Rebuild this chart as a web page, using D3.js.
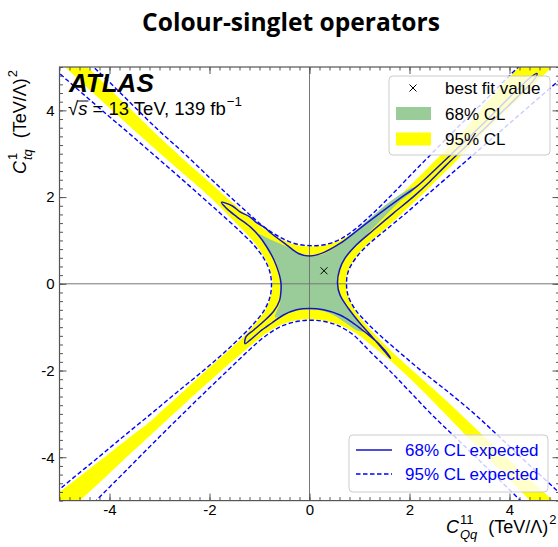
<!DOCTYPE html>
<html>
<head>
<meta charset="utf-8">
<script src="https://cdn.jsdelivr.net/npm/d3@7"></script>
<style>
body{margin:0;background:#fff;}
text{font-family:"Liberation Sans",Arial,sans-serif;}
</style>
</head>
<body>
<script>
var W=558,H=547;

// tick labels
var xTicks=[-4,-2,0,2,4];
var yTicks=[-4,-2,0,2,4];

// best fit point
var bestFit=[0.29,0.30];

// expected 95% CL (dashed), four branches
var exp95Top=[[-5.3,6.1],[-4.5,5.2],[-4.0,4.65],[-3.5,4.08],[-3.0,3.52],[-2.5,3.0],[-2.0,2.45],[-1.6,2.02],[-1.2,1.6],[-0.9,1.3],[-0.6,1.08],[-0.3,0.93],[0,0.88],[0.3,0.9],[0.6,1.02],[0.9,1.25],[1.2,1.55],[1.6,2.0],[2.0,2.48],[2.5,3.07],[3.0,3.65],[3.5,4.22],[4.0,4.8],[4.5,5.37],[5.3,6.3]];
var exp95Bottom=[[-5.3,-6.2],[-4.5,-5.27],[-4.0,-4.69],[-3.5,-4.11],[-3.0,-3.53],[-2.5,-2.96],[-2.0,-2.4],[-1.6,-1.96],[-1.2,-1.52],[-0.9,-1.22],[-0.6,-1.0],[-0.3,-0.88],[0,-0.84],[0.3,-0.87],[0.6,-0.98],[0.9,-1.2],[1.2,-1.55],[1.6,-2.0],[2.0,-2.48],[2.5,-3.08],[3.0,-3.63],[3.5,-4.19],[4.0,-4.75],[4.5,-5.31],[5.3,-6.2]];
var exp95Left=[[-6.15,6],[-5.15,5],[-4.65,4.5],[-4.15,4],[-3.64,3.5],[-3.14,3],[-2.64,2.5],[-2.15,2],[-1.76,1.6],[-1.38,1.2],[-1.12,0.9],[-0.92,0.6],[-0.8,0.3],[-0.76,0],[-0.79,-0.3],[-0.9,-0.6],[-1.1,-0.9],[-1.35,-1.2],[-1.72,-1.6],[-2.12,-2],[-2.65,-2.5],[-3.17,-3],[-3.7,-3.5],[-4.22,-4],[-4.75,-4.5],[-5.27,-5],[-6.32,-6]];
var exp95Right=[[6.3,6],[5.3,5],[4.8,4.5],[4.3,4],[3.8,3.5],[3.3,3],[2.8,2.5],[2.3,2],[1.9,1.6],[1.48,1.2],[1.17,0.9],[0.93,0.6],[0.78,0.3],[0.74,0],[0.78,-0.3],[0.92,-0.6],[1.15,-0.9],[1.42,-1.2],[1.82,-1.6],[2.23,-2],[2.78,-2.5],[3.3,-3],[3.77,-3.5],[4.23,-4],[4.7,-4.5],[5.16,-5],[6.08,-6]];

// observed 95% CL region (yellow), four sides
var obs95Top=[[-5.2,5.85],[-4.5,5.07],[-4.0,4.5],[-3.5,3.94],[-3.0,3.38],[-2.5,2.85],[-2.0,2.34],[-1.6,1.93],[-1.2,1.53],[-0.9,1.26],[-0.6,1.05],[-0.3,0.91],[0,0.86],[0.3,0.89],[0.6,1.0],[0.9,1.2],[1.2,1.45],[1.6,1.83],[2.0,2.25],[2.41,2.72],[3.0,3.42],[3.5,4.12],[4.17,4.98],[4.8,5.75]];
var obs95Right=[[5.55,5.8],[4.85,5.0],[4.4,4.5],[3.95,4.0],[3.5,3.5],[3.07,3.0],[2.84,2.72],[2.64,2.5],[2.2,2.0],[1.83,1.6],[1.45,1.2],[1.15,0.9],[0.92,0.6],[0.78,0.3],[0.73,0],[0.78,-0.3],[0.9,-0.6],[1.1,-0.9],[1.33,-1.2],[1.68,-1.6],[2.06,-2.0],[2.55,-2.5],[3.02,-3.0],[3.47,-3.5],[3.93,-4.0],[4.4,-4.5],[4.87,-5.0],[5.6,-5.8]];
var obs95Bottom=[[-5.3,-5.75],[-4.59,-5.0],[-4.0,-4.37],[-3.5,-3.83],[-2.86,-3.15],[-2.5,-2.77],[-2.0,-2.25],[-1.6,-1.84],[-1.2,-1.45],[-0.9,-1.17],[-0.6,-0.96],[-0.3,-0.85],[0,-0.82],[0.3,-0.85],[0.6,-0.95],[0.9,-1.12],[1.2,-1.38],[1.6,-1.75],[2.0,-2.17],[2.4,-2.63],[2.84,-3.15],[3.5,-3.93],[4.0,-4.52],[4.41,-5.0],[5.1,-5.8]];
var obs95Left=[[-5.65,5.8],[-4.89,5.0],[-4.42,4.5],[-3.95,4.0],[-3.47,3.5],[-2.98,3.0],[-2.48,2.5],[-2.19,2.21],[-1.99,2.0],[-1.64,1.6],[-1.3,1.2],[-1.07,0.9],[-0.9,0.6],[-0.78,0.3],[-0.74,0],[-0.78,-0.3],[-0.88,-0.6],[-1.07,-0.9],[-1.3,-1.2],[-1.68,-1.6],[-2.07,-2.0],[-2.54,-2.5],[-3.02,-3.0],[-3.16,-3.15],[-3.55,-3.5],[-4.1,-4.0],[-4.66,-4.5],[-5.22,-5.0],[-6.1,-5.8]];

// observed 68% CL region (green)
var obs68=[[-1.04,1.15],[-0.76,1.01],[-0.46,0.86],[-0.19,0.69],[0.01,0.63],[0.28,0.69],[0.54,0.86],[0.9,1.2],[1.2,1.5],[1.5,1.8],[1.8,2.05],[2.08,2.22],[2.08,2.16],[1.8,1.9],[1.5,1.55],[1.2,1.2],[0.95,0.9],[0.72,0.6],[0.58,0.26],[0.57,-0.07],[0.64,-0.3],[0.78,-0.57],[0.94,-0.83],[1.08,-1.1],[0.94,-1.07],[0.68,-0.87],[0.41,-0.68],[0.14,-0.6],[0.01,-0.59],[-0.19,-0.6],[-0.39,-0.67],[-0.59,-0.75],[-0.69,-0.77],[-0.66,-0.64],[-0.59,-0.45],[-0.58,-0.22],[-0.59,0.01],[-0.6,0.24],[-0.69,0.55],[-0.86,0.86]];

// expected 68% CL (solid)
var exp68=[[-1.76,1.88],[-1.55,1.8],[-1.39,1.66],[-1.2,1.55],[-1.06,1.41],[-0.9,1.3],[-0.76,1.16],[-0.46,0.9],[-0.22,0.7],[0,0.64],[0.28,0.72],[0.61,0.93],[1.01,1.28],[1.41,1.63],[1.81,1.97],[2.14,2.24],[2.5,2.62],[3.0,3.17],[3.5,3.72],[4.0,4.3],[4.4,4.74],[4.55,4.85],[4.5,4.72],[4.15,4.3],[3.7,3.8],[3.2,3.25],[2.72,2.72],[2.41,2.36],[2.08,2.01],[1.68,1.63],[1.28,1.24],[0.94,0.9],[0.71,0.59],[0.6,0.32],[0.56,0.01],[0.61,-0.26],[0.78,-0.57],[1.01,-0.91],[1.28,-1.26],[1.51,-1.57],[1.62,-1.72],[1.58,-1.64],[1.41,-1.41],[1.14,-1.14],[0.88,-0.91],[0.61,-0.72],[0.28,-0.6],[0,-0.57],[-0.26,-0.6],[-0.52,-0.72],[-0.76,-0.91],[-0.99,-1.1],[-1.19,-1.3],[-1.29,-1.38],[-1.27,-1.22],[-1.12,-1.07],[-0.92,-0.87],[-0.72,-0.64],[-0.6,-0.39],[-0.57,-0.16],[-0.57,0.01],[-0.61,0.24],[-0.71,0.55],[-0.86,0.86],[-1.0,1.09],[-1.19,1.32],[-1.46,1.55],[-1.66,1.74]];

var legendTop=["best fit value","68% CL","95% CL"];
var legendBottom=["68% CL expected","95% CL expected"];

var cGreen="#99cc99", cYellow="#ffff00", cBlue="#0000ff", cSolid="#1515c8";

var svg=d3.select("body").append("svg").attr("width",W).attr("height",H);

var x=d3.scaleLinear().domain([-5,5]).range([59.5,559.5]);
var y=d3.scaleLinear().domain([-5,5]).range([500.6,67]);

svg.append("clipPath").attr("id","plotclip").append("rect")
  .attr("x",x(-5)).attr("y",y(5)).attr("width",x(5)-x(-5)).attr("height",y(-5)-y(5));

var plot=svg.append("g").attr("clip-path","url(#plotclip)");

var lineSmooth=d3.line().x(function(d){return x(d[0]);}).y(function(d){return y(d[1]);}).curve(d3.curveCatmullRom.alpha(0.5));
var areaClosed=d3.line().x(function(d){return x(d[0]);}).y(function(d){return y(d[1]);}).curve(d3.curveCatmullRomClosed.alpha(0.5));

// yellow region: top L->R, right top->bottom, bottom R->L, left bottom->top
var yellowPoly=obs95Top.concat(obs95Right, obs95Bottom.slice().reverse(), obs95Left.slice().reverse());
plot.append("path").attr("d",areaClosed(yellowPoly)).attr("fill",cYellow);
plot.append("path").attr("d",areaClosed(obs68)).attr("fill",cGreen);

// zero lines
plot.append("line").attr("x1",x(-5)).attr("x2",x(5)).attr("y1",y(0)).attr("y2",y(0)).attr("stroke","#777").attr("stroke-width",1);
plot.append("line").attr("x1",x(0)).attr("x2",x(0)).attr("y1",y(-5)).attr("y2",y(5)).attr("stroke","#777").attr("stroke-width",1);

[exp95Top,exp95Bottom,exp95Left,exp95Right].forEach(function(b){
  plot.append("path").attr("d",lineSmooth(b)).attr("fill","none")
    .attr("stroke",cBlue).attr("stroke-width",1.4).attr("stroke-dasharray","4.5,2.5");
});
plot.append("path").attr("d",areaClosed(exp68)).attr("fill","none")
  .attr("stroke",cSolid).attr("stroke-width",1.5);

// best fit marker
function cross(g,cx,cy,r){
  g.append("path").attr("d","M"+(cx-r)+","+(cy-r)+"L"+(cx+r)+","+(cy+r)+"M"+(cx-r)+","+(cy+r)+"L"+(cx+r)+","+(cy-r))
    .attr("stroke","#000").attr("stroke-width",1).attr("fill","none");
}
cross(plot,x(bestFit[0]),y(bestFit[1]),3.5);

// axes ticks
var minor=d3.range(-5,5.001,0.2).map(function(v){return Math.round(v*10)/10;});
var fmt=function(d){return String(d);};
function styleAxis(g){
  g.select(".domain").remove();
  g.selectAll(".tick line").attr("stroke","#555");
  g.selectAll(".tick text").style("font-size","15px").style("font-family","Liberation Sans, Arial, sans-serif").attr("fill","#000");
}
svg.append("g").attr("transform","translate(0,"+y(-5)+")")
  .call(d3.axisBottom(x).tickValues(minor).tickSizeInner(-3.5).tickSizeOuter(0).tickFormat("")).call(styleAxis);
svg.append("g").attr("transform","translate(0,"+y(-5)+")")
  .call(d3.axisBottom(x).tickValues(xTicks).tickSizeInner(-7).tickSizeOuter(0).tickPadding(4).tickFormat(fmt)).call(styleAxis);
svg.append("g").attr("transform","translate(0,"+y(5)+")")
  .call(d3.axisTop(x).tickValues(minor).tickSizeInner(-3.5).tickSizeOuter(0).tickFormat("")).call(styleAxis);
svg.append("g").attr("transform","translate(0,"+y(5)+")")
  .call(d3.axisTop(x).tickValues(xTicks).tickSizeInner(-7).tickSizeOuter(0).tickFormat("")).call(styleAxis);
svg.append("g").attr("transform","translate("+x(-5)+",0)")
  .call(d3.axisLeft(y).tickValues(minor).tickSizeInner(-3.5).tickSizeOuter(0).tickFormat("")).call(styleAxis);
svg.append("g").attr("transform","translate("+x(-5)+",0)")
  .call(d3.axisLeft(y).tickValues(yTicks).tickSizeInner(-7).tickSizeOuter(0).tickPadding(5).tickFormat(fmt)).call(styleAxis);
svg.append("g").attr("transform","translate("+x(5)+",0)")
  .call(d3.axisRight(y).tickValues(minor).tickSizeInner(-3.5).tickSizeOuter(0).tickFormat("")).call(styleAxis);
svg.append("g").attr("transform","translate("+x(5)+",0)")
  .call(d3.axisRight(y).tickValues(yTicks).tickSizeInner(-7).tickSizeOuter(0).tickFormat("")).call(styleAxis);

svg.append("rect").attr("x",x(-5)).attr("y",y(5)).attr("width",x(5)-x(-5)).attr("height",y(-5)-y(5))
  .attr("fill","none").attr("stroke","#555").attr("stroke-width",1.2);

// rich text helper: parts with t / sub / sup
function rich(g,parts,size){
  var cx=0;
  parts.forEach(function(p){
    if(p.t!==undefined){
      var t=g.append("text").attr("x",cx).attr("y",0).style("font-size",size+"px")
        .style("font-style",p.it?"italic":"normal").style("white-space","pre").text(p.t);
      p.x0=cx; p.w=t.node().getComputedTextLength();
      cx+=p.w;
    } else {
      var w=0, s=size*0.72;
      if(p.sub){
        var a=g.append("text").attr("x",cx+1).attr("y",size*0.33).style("font-size",s+"px")
          .style("font-style",p.subIt?"italic":"normal").text(p.sub);
        w=Math.max(w,a.node().getComputedTextLength()+1);
      }
      if(p.sup){
        var b=g.append("text").attr("x",cx+1).attr("y",-size*0.48).style("font-size",s+"px").text(p.sup);
        w=Math.max(w,b.node().getComputedTextLength()+1);
      }
      cx+=w+1;
    }
  });
  return cx;
}

// axis labels
var xl=svg.append("g");
var xw=rich(xl,[{t:"C",it:true},{sub:"Qq",subIt:true,sup:"11"},{t:"  (TeV/\u039B)"},{sup:"2"}],18);
xl.attr("transform","translate("+(x(5)-xw-2)+",533)");

var ylOuter=svg.append("g").attr("transform","translate(26,"+(y(5)+2)+") rotate(-90)");
var yl=ylOuter.append("g");
var yw=rich(yl,[{t:"C",it:true},{sub:"tq",subIt:true,sup:"1"},{t:"  (TeV/\u039B)"},{sup:"2"}],18);
yl.attr("transform","translate("+(-yw)+",0)");

// ATLAS label
svg.append("text").attr("x",69).attr("y",92).style("font-size","26px").style("font-weight","bold")
  .style("font-style","italic").text("ATLAS");
var en=svg.append("g").attr("transform","translate(68,115)");
var enParts=[{t:"\u221A"},{t:"s",it:true},{t:" = 13 TeV, 139 fb"},{sup:"\u22121"}];
rich(en,enParts,18.5);
en.append("line").attr("x1",enParts[1].x0-1).attr("x2",enParts[1].x0+enParts[1].w+1)
  .attr("y1",-14).attr("y2",-14).attr("stroke","#000").attr("stroke-width",1);

// title
var title=svg.append("text").attr("x",291).attr("y",31).attr("text-anchor","middle")
  .style("font-family","'Open Sans',sans-serif").style("font-weight","bold").style("font-size","26px")
  .text("Colour-singlet operators");
var tw=title.node().getComputedTextLength();
title.style("font-size",(26*298/tw)+"px");

// legend 1
var lg1=svg.append("g");
lg1.append("rect").attr("x",389).attr("y",76).attr("width",161).attr("height",79).attr("rx",4)
  .attr("fill","#fff").attr("fill-opacity",0.8).attr("stroke","#ccc").attr("stroke-width",1);
var ly1=[88,113.5,139];
cross(lg1,413,ly1[0],3.5);
lg1.append("rect").attr("x",396).attr("y",ly1[1]-6.5).attr("width",35).attr("height",13).attr("fill",cGreen);
lg1.append("rect").attr("x",396).attr("y",ly1[2]-6.5).attr("width",35).attr("height",13).attr("fill",cYellow);
legendTop.forEach(function(s,i){
  lg1.append("text").attr("x",445).attr("y",ly1[i]).attr("dy","0.36em").style("font-size","17px").text(s);
});

// legend 2
var lg2=svg.append("g");
lg2.append("rect").attr("x",349).attr("y",435).attr("width",199).attr("height",57).attr("rx",4)
  .attr("fill","#fff").attr("fill-opacity",0.8).attr("stroke","#ccc").attr("stroke-width",1);
var ly2=[450,474];
lg2.append("line").attr("x1",356).attr("x2",392).attr("y1",ly2[0]).attr("y2",ly2[0]).attr("stroke",cSolid).attr("stroke-width",1.5);
lg2.append("line").attr("x1",356).attr("x2",392).attr("y1",ly2[1]).attr("y2",ly2[1]).attr("stroke",cBlue).attr("stroke-width",1.4).attr("stroke-dasharray","4.5,2.5");
legendBottom.forEach(function(s,i){
  lg2.append("text").attr("x",405).attr("y",ly2[i]).attr("dy","0.36em").style("font-size","17px").attr("fill",cBlue).text(s);
});
</script>
</body>
</html>
